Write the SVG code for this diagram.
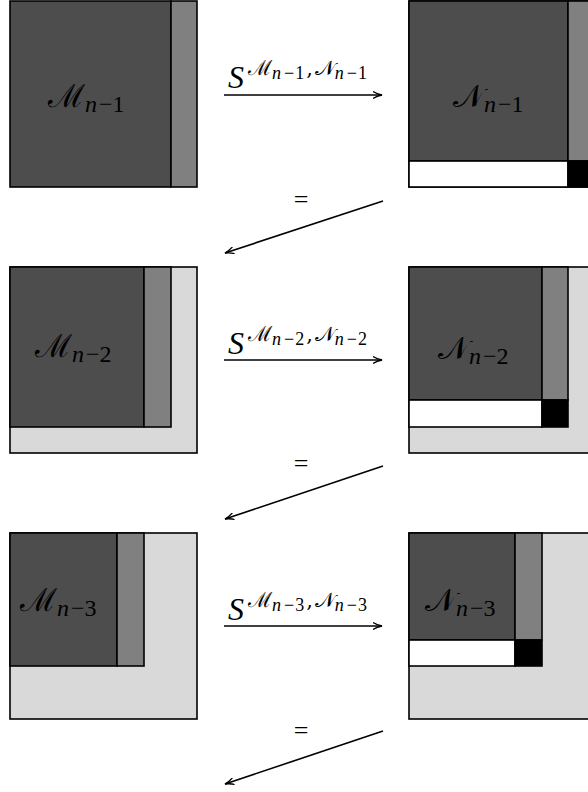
<svg xmlns="http://www.w3.org/2000/svg" width="588" height="792" viewBox="0 0 588 792">
<defs>
<style>
.r{stroke:#000;stroke-width:1.6}
.dk{fill:#4d4d4d}.gy{fill:#808080}.lt{fill:#d9d9d9}.wh{fill:#fff}.bk{fill:#000}
.lbl{font-family:"DejaVu Serif","Liberation Serif",serif;font-size:32px;fill:#000}
.sub{font-family:"Liberation Serif","DejaVu Serif",serif;font-size:24px}
.s{font-family:"Liberation Serif","DejaVu Serif",serif;font-size:32px;font-style:italic}
.sup{font-family:"DejaVu Serif","Liberation Serif",serif;font-size:21px;font-style:normal}
.ss{font-family:"Liberation Serif",serif;font-size:18px;font-style:normal;letter-spacing:1px}
.it{font-style:italic}
.eq{font-family:"Liberation Serif",serif;font-size:26px}
.ln{stroke:#000;stroke-width:1.6;fill:none}
</style>
<marker id="ah" markerWidth="10" markerHeight="8" refX="9" refY="4" orient="auto" markerUnits="userSpaceOnUse">
<path d="M0,0.5 Q4,3 9,4 Q4,5 0,7.5" fill="none" stroke="#000" stroke-width="1.3"/>
</marker>
</defs>
<g id="M1">
<rect class="r dk" x="10" y="1" width="161" height="186"/>
<rect class="r gy" x="171" y="1" width="26" height="186"/>
<text class="lbl" x="48" y="107">ℳ<tspan class="sub it" dy="5">n</tspan><tspan class="sub" dx="2">−1</tspan></text>
</g>
<g id="N1">
<rect class="r lt" x="409" y="1" width="186" height="186"/>
<rect class="r dk" x="409" y="1" width="159" height="160"/>
<rect class="r gy" x="568" y="1" width="26" height="160"/>
<rect class="r wh" x="409" y="161" width="159" height="26"/>
<rect class="r bk" x="568" y="161" width="26" height="26"/>
<text class="lbl" x="453" y="107">𝒩<tspan class="sub it" dy="5">n</tspan><tspan class="sub" dx="2">−1</tspan></text>
</g>
<g id="M2">
<rect class="r lt" x="10" y="267" width="187" height="186"/>
<rect class="r dk" x="10" y="267" width="134" height="160"/>
<rect class="r gy" x="144" y="267" width="27" height="160"/>
<text class="lbl" x="35" y="357">ℳ<tspan class="sub it" dy="5">n</tspan><tspan class="sub" dx="2">−2</tspan></text>
</g>
<g id="N2">
<rect class="r lt" x="409" y="267" width="186" height="186"/>
<rect class="r dk" x="409" y="267" width="133" height="133"/>
<rect class="r gy" x="542" y="267" width="26" height="133"/>
<rect class="r wh" x="409" y="400" width="133" height="27"/>
<rect class="r bk" x="542" y="400" width="26" height="27"/>
<text class="lbl" x="438" y="359">𝒩<tspan class="sub it" dy="5">n</tspan><tspan class="sub" dx="2">−2</tspan></text>
</g>
<g id="M3">
<rect class="r lt" x="10" y="533" width="187" height="186"/>
<rect class="r dk" x="10" y="533" width="107" height="133"/>
<rect class="r gy" x="117" y="533" width="27" height="133"/>
<text class="lbl" x="20" y="611">ℳ<tspan class="sub it" dy="5">n</tspan><tspan class="sub" dx="2">−3</tspan></text>
</g>
<g id="N3">
<rect class="r lt" x="409" y="533" width="186" height="186"/>
<rect class="r dk" x="409" y="533" width="106" height="107"/>
<rect class="r gy" x="515" y="533" width="27" height="107"/>
<rect class="r wh" x="409" y="640" width="106" height="26"/>
<rect class="r bk" x="515" y="640" width="27" height="26"/>
<text class="lbl" x="425" y="611">𝒩<tspan class="sub it" dy="5">n</tspan><tspan class="sub" dx="2">−3</tspan></text>
</g>
<g id="connectors">
<line class="ln" x1="224" y1="95" x2="382" y2="95" marker-end="url(#ah)"/>
<line class="ln" x1="383" y1="201" x2="225" y2="253" marker-end="url(#ah)"/>
<line class="ln" x1="224" y1="360" x2="382" y2="360" marker-end="url(#ah)"/>
<line class="ln" x1="383" y1="466" x2="225" y2="519" marker-end="url(#ah)"/>
<line class="ln" x1="224" y1="626" x2="382" y2="626" marker-end="url(#ah)"/>
<line class="ln" x1="383" y1="731" x2="225" y2="784" marker-end="url(#ah)"/>
</g>
<g id="labels">
<text class="s" x="228" y="88">S<tspan class="sup" dx="4" dy="-13">ℳ</tspan><tspan class="ss it" dy="4">n</tspan><tspan class="ss" dx="2">−1</tspan><tspan class="sup" dy="-4" dx="1">,</tspan><tspan class="sup" dx="2">𝒩</tspan><tspan class="ss it" dy="4">n</tspan><tspan class="ss" dx="2">−1</tspan></text>
<text class="s" x="228" y="354">S<tspan class="sup" dx="4" dy="-13">ℳ</tspan><tspan class="ss it" dy="4">n</tspan><tspan class="ss" dx="2">−2</tspan><tspan class="sup" dy="-4" dx="1">,</tspan><tspan class="sup" dx="2">𝒩</tspan><tspan class="ss it" dy="4">n</tspan><tspan class="ss" dx="2">−2</tspan></text>
<text class="s" x="228" y="620">S<tspan class="sup" dx="4" dy="-13">ℳ</tspan><tspan class="ss it" dy="4">n</tspan><tspan class="ss" dx="2">−3</tspan><tspan class="sup" dy="-4" dx="1">,</tspan><tspan class="sup" dx="2">𝒩</tspan><tspan class="ss it" dy="4">n</tspan><tspan class="ss" dx="2">−3</tspan></text>
<text class="eq" x="301" y="208" text-anchor="middle">=</text>
<text class="eq" x="301" y="472" text-anchor="middle">=</text>
<text class="eq" x="301" y="739" text-anchor="middle">=</text>
</g>
</svg>
